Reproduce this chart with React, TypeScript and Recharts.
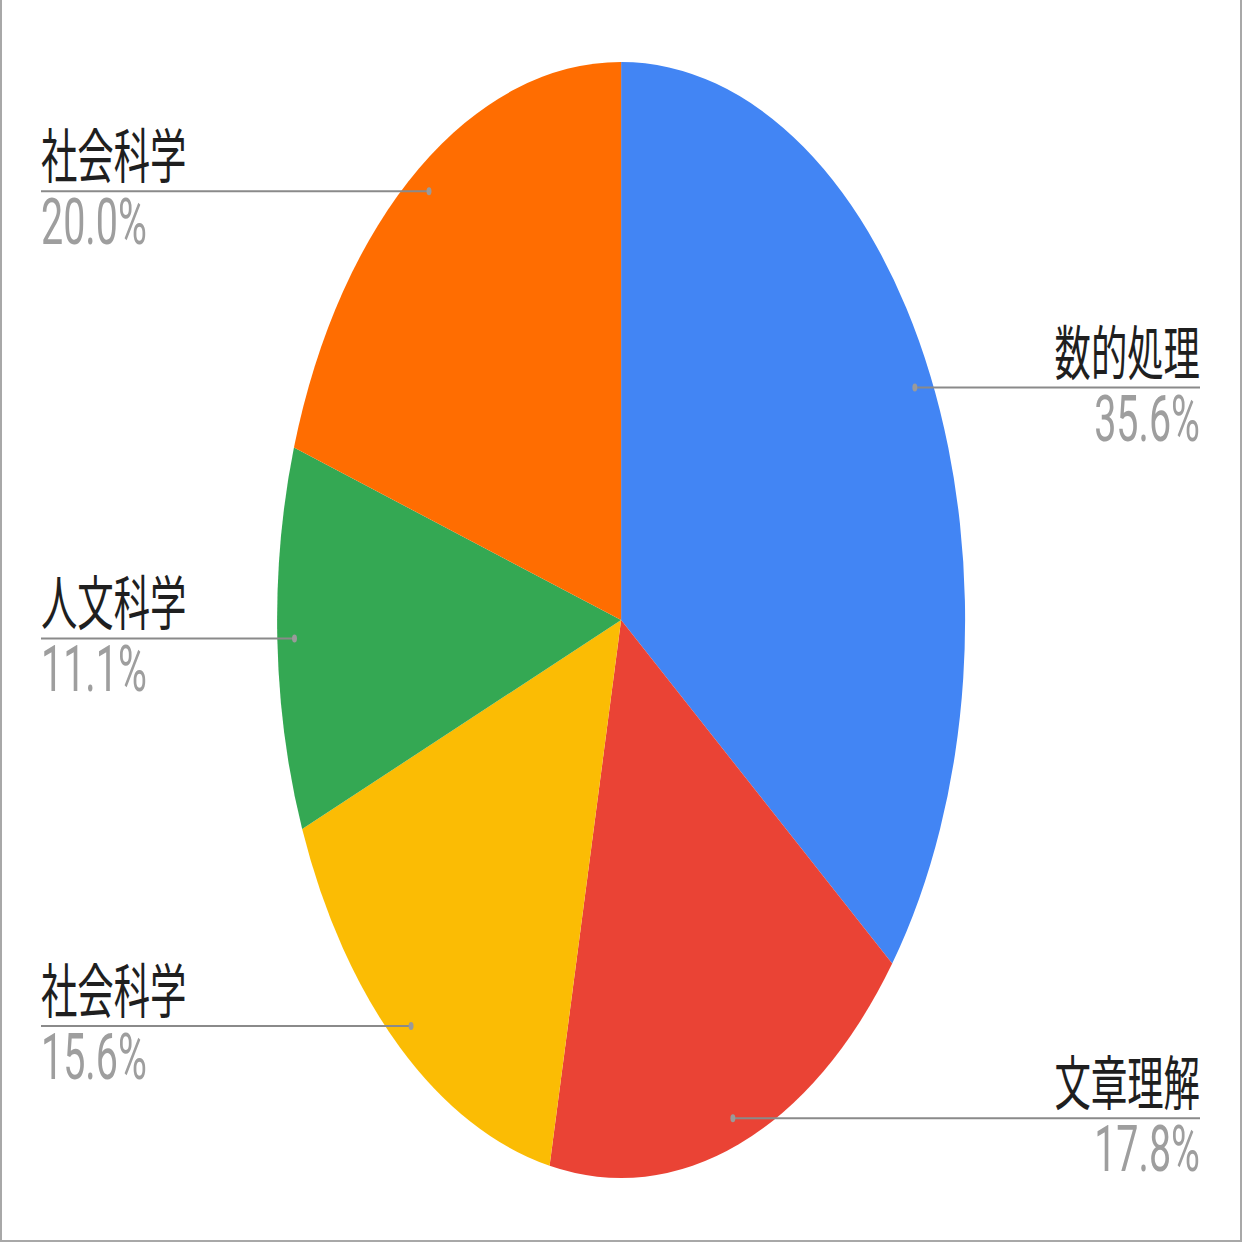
import React from 'react';
import { PieChart, Pie, Cell } from 'recharts';

// subjects clockwise from 12 o'clock
const subjects = ['数的処理', '文章理解', '社会科学', '人文科学', '社会科学'];
const counts = [16, 8, 7, 5, 9];
const colors = ['#4285F4', '#EA4335', '#FBBC04', '#34A853', '#FF6D01'];

const data = subjects.map((name, i) => ({ name, value: counts[i] }));

// the reference is a square chart squeezed horizontally
const SQUEEZE = 344 / 558;
const SIZE = 1242;
const INNER_W = Math.round(SIZE / SQUEEZE);
const LEFT_X = 41 / SQUEEZE;
const RIGHT_X = 1200 / SQUEEZE;
const RADIAN = Math.PI / 180;

const renderLabel = (props: any) => {
  const { cx, cy, midAngle, outerRadius, percent, name, index } = props;
  const r = outerRadius * 0.95;
  const x = cx + r * Math.cos(-midAngle * RADIAN);
  const y = cy + r * Math.sin(-midAngle * RADIAN);
  const right = x > cx;
  const edge = right ? RIGHT_X : LEFT_X;
  const anchor = right ? 'end' : 'start';
  return (
    <g key={`label-${index}`}>
      <line x1={x} y1={y} x2={edge} y2={y} stroke="#8a8a8a" strokeWidth={2} />
      <circle cx={x} cy={y} r={4} fill="#9a9a9a" />
      <text
        x={edge}
        y={y - 13}
        textAnchor={anchor}
        fontSize={59}
        fill="#1f1f1f"
        fontFamily="'Noto Sans CJK JP', sans-serif"
      >
        {name}
      </text>
      <text
        x={edge}
        y={y + 53}
        textAnchor={anchor}
        fontSize={64}
        fill="#9e9e9e"
        fontFamily="Roboto, sans-serif"
      >
        {(percent * 100).toFixed(1)}%
      </text>
    </g>
  );
};

const App: React.FC = () => {
  return (
    <div
      style={{
        position: 'absolute',
        left: 0,
        top: 0,
        width: SIZE,
        height: SIZE,
        overflow: 'hidden',
        background: '#fff',
      }}
    >
      <div style={{ width: INNER_W, height: SIZE, transform: `scaleX(${SQUEEZE})`, transformOrigin: 'left top' }}>
        <PieChart width={INNER_W} height={SIZE} margin={{ top: 0, right: 0, bottom: 0, left: 0 }}>
          <Pie
            data={data}
            dataKey="value"
            nameKey="name"
            cx={INNER_W / 2}
            cy={620}
            outerRadius={558}
            startAngle={90}
            endAngle={-270}
            stroke="none"
            label={renderLabel}
            labelLine={false}
            isAnimationActive={false}
          >
            {data.map((entry, index) => (
              <Cell key={`cell-${index}`} fill={colors[index]} />
            ))}
          </Pie>
        </PieChart>
      </div>
      <div
        style={{
          position: 'absolute',
          left: 0,
          top: 0,
          width: SIZE,
          height: SIZE,
          boxSizing: 'border-box',
          borderLeft: '2px solid #a8a8a8',
          borderRight: '2px solid #a8a8a8',
          borderBottom: '2px solid #a8a8a8',
          pointerEvents: 'none',
        }}
      />
    </div>
  );
};

export default App;
